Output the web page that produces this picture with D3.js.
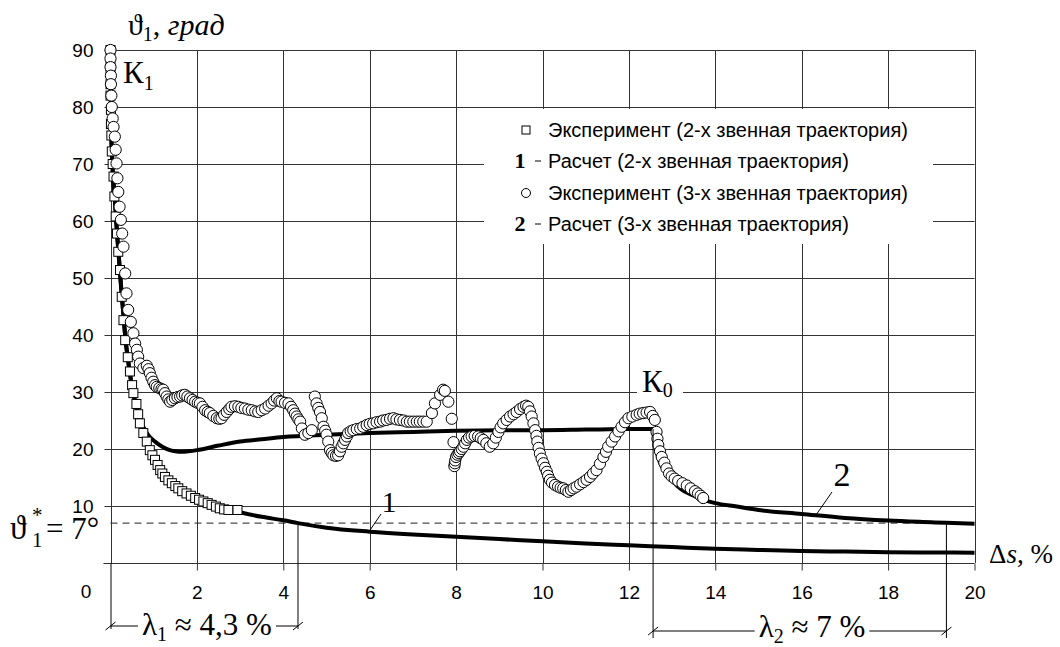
<!DOCTYPE html>
<html><head><meta charset="utf-8">
<script src="https://cdn.jsdelivr.net/npm/d3@7"></script>
<style>body{margin:0;background:#fff}svg{display:block}</style>
</head><body><svg id="c" width="1060" height="647"></svg>
<script>
const xTicks=[2,4,6,8,10,12,14,16,18,20];
const yTicks=[10,20,30,40,50,60,70,80,90];
// Calculation 1 (2-link trajectory)
const calc1=[[0,90],[0.01,80],[0.02,75],[0.05,69],[0.1,64],[0.15,58],[0.2,53],[0.25,48],[0.3,43.5],[0.35,39],[0.4,36],[0.45,33.2],[0.5,30.8],[0.6,27.6],[0.7,24.4],[0.8,22.0],[0.9,20.0],[1.0,18.4],[1.2,16.0],[1.4,14.3],[1.6,13.0],[1.8,12.0],[2.0,11.3],[2.2,10.7],[2.5,9.9],[2.8,9.3],[3.0,8.9],[3.5,8.1],[4.0,7.5],[4.34,7.0],[5.0,6.2],[6.0,5.5],[7.0,5.0],[8.0,4.6],[9.0,4.2],[10.0,3.8],[11.0,3.4],[12.0,3.1],[13.0,2.8],[14.0,2.5],[15.0,2.3],[16.0,2.1],[17.0,2.0],[18.0,1.9],[19.0,1.85],[20.0,1.8]];
// Calculation 2 (3-link trajectory)
const calc2=[[0,90],[0.01,80],[0.02,75],[0.05,69],[0.1,64],[0.15,58],[0.2,53],[0.25,48],[0.3,43.5],[0.35,39],[0.4,36],[0.45,33.2],[0.5,30.8],[0.6,27.3],[0.7,24.8],[0.8,23.3],[0.9,22.2],[1.03,21.3],[1.2,20.4],[1.34,19.9],[1.5,19.6],[1.65,19.5],[1.8,19.6],[2.0,19.8],[2.5,20.6],[3.0,21.3],[3.5,21.7],[4.0,22.1],[5.0,22.5],[6.0,22.8],[7.0,23.0],[8.0,23.2],[9.0,23.3],[10.0,23.3],[11.0,23.4],[12.0,23.5],[12.55,23.5],[12.6,21.0],[12.7,18.0],[12.85,16.0],[13.0,14.5],[13.2,13.0],[13.5,11.8],[13.8,10.9],[14.0,10.5],[14.5,9.9],[15.0,9.3],[16.0,8.6],[17.0,7.9],[18.0,7.45],[19.0,7.15],[19.35,7.05],[20.0,6.9]];
// Experiment (2-link)
const exp2=[[0,90],[0,88],[0,86],[0,84],[0,82],[0.01,79.5],[0.01,77],[0.02,75],[0.03,72.2],[0.05,70],[0.07,67.8],[0.09,64.3],[0.12,60.8],[0.15,57.8],[0.18,54.6],[0.22,51.4],[0.26,46.7],[0.3,42.6],[0.34,39.1],[0.4,36.1],[0.45,33.6],[0.5,31.2],[0.53,29.8],[0.6,27.9],[0.64,26.1],[0.68,24.5],[0.76,22.8],[0.84,21.3],[0.91,19.8],[0.97,18.9],[1.03,18.1],[1.09,17.2],[1.15,16.3],[1.2,15.7],[1.26,15.1],[1.34,14.5],[1.42,14.0],[1.5,13.5],[1.57,13.1],[1.66,12.6],[1.76,12.2],[1.86,11.8],[1.96,11.4],[2.05,11.1],[2.15,10.8],[2.25,10.5],[2.34,10.2],[2.44,9.9],[2.53,9.6],[2.63,9.4],[2.73,9.3],[2.94,9.3]];
// Experiment (3-link)
const exp3=[[0,90],[0,88.5],[0,87],[0.01,85.5],[0.01,84],[0.02,82],[0.03,80],[0.05,78],[0.07,76.5],[0.1,74.8],[0.12,72.5],[0.14,70.1],[0.16,67.5],[0.18,65.1],[0.21,62.5],[0.24,60.2],[0.27,57.8],[0.3,55.5],[0.34,50.8],[0.37,47.3],[0.41,44.4],[0.47,42.3],[0.53,40.3],[0.57,38.5],[0.61,37.4],[0.64,36.2],[0.68,35],[0.76,34.2],[0.84,34.6],[0.88,34.0],[0.91,33.3],[0.95,32.5],[0.99,31.8],[1.03,31.2],[1.07,30.9],[1.13,30.7],[1.18,30.5],[1.22,30.4],[1.26,29.8],[1.3,29.2],[1.34,28.7],[1.38,28.3],[1.43,28.6],[1.49,28.9],[1.55,29.1],[1.61,29.2],[1.66,29.4],[1.72,29.5],[1.78,29.2],[1.84,28.9],[1.9,28.6],[1.96,28.3],[2.02,28.1],[2.07,28.0],[2.13,27.4],[2.19,26.8],[2.25,26.5],[2.3,26.3],[2.38,25.8],[2.46,25.4],[2.52,25.3],[2.57,25.4],[2.63,26.0],[2.69,26.5],[2.75,27.0],[2.8,27.4],[2.88,27.5],[2.96,27.4],[3.03,27.2],[3.11,27.1],[3.19,26.9],[3.27,26.8],[3.35,26.6],[3.42,26.5],[3.5,26.8],[3.58,27.1],[3.66,27.6],[3.73,28.0],[3.79,28.5],[3.85,28.9],[3.91,28.4],[3.96,28.3],[4.04,28.1],[4.12,28.0],[4.18,27.4],[4.23,26.8],[4.27,26.2],[4.31,25.7],[4.35,25.2],[4.39,24.8],[4.43,23.6],[4.5,22.5],[4.58,22.8],[4.66,23.3],[4.73,29.2],[4.77,28.0],[4.81,27.2],[4.85,26.5],[4.89,25.4],[4.93,23.9],[4.97,23.2],[5.0,22.5],[5.04,21.3],[5.08,19.8],[5.12,19.3],[5.16,18.9],[5.22,18.8],[5.27,18.9],[5.31,19.6],[5.35,20.4],[5.39,21.0],[5.43,21.6],[5.47,22.2],[5.5,22.8],[5.56,23.1],[5.62,23.3],[5.7,23.5],[5.78,23.6],[5.85,23.9],[5.93,24.2],[6.0,24.4],[6.08,24.5],[6.16,24.7],[6.24,24.8],[6.31,25.0],[6.39,25.1],[6.47,25.3],[6.55,25.4],[6.62,25.2],[6.7,25.1],[6.78,25.0],[6.86,24.8],[6.93,24.8],[7.01,24.8],[7.09,24.8],[7.16,24.8],[7.24,24.8],[7.32,24.8],[7.44,26.3],[7.51,28.0],[7.63,29.5],[7.7,30.4],[7.74,30.2],[7.82,28.3],[7.9,25.3],[7.94,21.2],[7.96,17.0],[7.97,17.5],[7.98,18.0],[8.0,18.6],[8.03,19.0],[8.06,19.3],[8.09,19.6],[8.13,20.0],[8.17,20.4],[8.21,21.0],[8.25,21.6],[8.3,22.0],[8.36,22.2],[8.43,22.3],[8.51,22.2],[8.57,21.9],[8.63,21.6],[8.7,21.0],[8.78,20.4],[8.86,21.0],[8.92,22.0],[8.98,23.0],[9.03,23.8],[9.09,24.5],[9.17,25.1],[9.25,25.7],[9.33,26.1],[9.4,26.5],[9.48,27.0],[9.56,27.4],[9.62,27.6],[9.67,27.4],[9.71,26.6],[9.75,25.7],[9.79,24.5],[9.83,23.3],[9.86,22.3],[9.88,21.3],[9.91,20.2],[9.94,19.2],[9.98,18.3],[10.02,17.5],[10.06,16.7],[10.1,16.0],[10.13,15.3],[10.17,14.6],[10.22,14.1],[10.29,13.7],[10.36,13.4],[10.42,13.2],[10.48,13.1],[10.54,12.8],[10.6,12.5],[10.66,12.8],[10.72,13.1],[10.79,13.4],[10.87,13.8],[10.95,14.2],[11.02,14.6],[11.1,15.1],[11.17,15.7],[11.25,16.3],[11.33,17.4],[11.41,18.6],[11.47,19.5],[11.52,20.4],[11.6,21.3],[11.68,22.2],[11.76,23.1],[11.83,23.9],[11.91,24.7],[11.99,25.4],[12.08,25.7],[12.18,26.0],[12.25,26.2],[12.33,26.3],[12.41,26.4],[12.49,26.5],[12.55,25.8],[12.6,25.1],[12.64,23.0],[12.66,21.8],[12.68,20.7],[12.72,19.6],[12.76,18.6],[12.82,17.6],[12.87,16.6],[12.93,15.7],[12.99,15.2],[13.06,14.8],[13.14,14.4],[13.24,14.0],[13.34,13.6],[13.43,13.1],[13.53,12.6],[13.6,12.2],[13.66,11.8],[13.72,11.4]];
const legendLabels=["Эксперимент (2-х звенная траектория)","Расчет (2-х звенная траектория)","Эксперимент (3-х звенная траектория)","Расчет (3-х звенная траектория)"];
const legendKeys=["square","1","circle","2"];
const thetaStar=7;
const lambda1End=4.34, lambda2Start=12.56, lambda2End=19.35;

const svg=d3.select("#c");
const x=d3.scaleLinear().domain([0,20]).range([110.5,974.5]);
const y=d3.scaleLinear().domain([0,90]).range([563,50]);
const sans="'Liberation Sans', Arial, sans-serif";
const serif="'Liberation Serif', 'Times New Roman', serif";
const gridC="#333";

// grid
const g=svg.append("g");
g.selectAll(".vg").data(xTicks).join("line")
 .attr("x1",d=>Math.round(x(d))+0.5).attr("x2",d=>Math.round(x(d))+0.5)
 .attr("y1",y(90)).attr("y2",y(0)).attr("stroke",gridC).attr("stroke-width",1);
g.selectAll(".hg").data(yTicks).join("line")
 .attr("x1",x(0)).attr("x2",x(20))
 .attr("y1",d=>Math.round(y(d))+0.5).attr("y2",d=>Math.round(y(d))+0.5).attr("stroke",gridC).attr("stroke-width",1);

// axes
const xa=svg.append("g").attr("transform",`translate(0,${Math.round(y(0))+0.5})`)
 .call(d3.axisBottom(x).tickValues(xTicks).tickSize(7).tickPadding(15).tickFormat(d3.format("d")));
const ya=svg.append("g").attr("transform",`translate(${Math.round(x(0))+0.5},0)`)
 .call(d3.axisLeft(y).tickValues(yTicks).tickSize(7).tickPadding(11).tickFormat(d3.format("d")));
[xa,ya].forEach(a=>{a.selectAll("line").attr("stroke",gridC);a.select(".domain").attr("stroke",gridC);
 a.selectAll("text").attr("font-family",sans).attr("font-size",19).attr("fill","#000");});
xa.select(".domain").attr("d",`M${x(0)-7},0H${x(20)}`);
ya.select(".domain").attr("d",`M0,${y(90)}V${y(0)}`);
svg.append("text").attr("x",86).attr("y",598).attr("text-anchor","middle")
 .attr("font-family",sans).attr("font-size",19).text("0");

// dashed theta* line
svg.append("line").attr("x1",x(0)).attr("x2",x(20)).attr("y1",y(thetaStar)).attr("y2",y(thetaStar))
 .attr("stroke","#222").attr("stroke-width",1).attr("stroke-dasharray","7,5");

// curves
const line=d3.line().x(d=>x(d[0])).y(d=>y(d[1])).curve(d3.curveMonotoneX);
svg.append("path").attr("d",line(calc1)).attr("fill","none").attr("stroke","#000").attr("stroke-width",4);
svg.append("path").attr("d",line(calc2)).attr("fill","none").attr("stroke","#000").attr("stroke-width",4);

// experiment markers
svg.append("g").selectAll("rect").data(exp2).join("rect")
 .attr("x",d=>x(d[0])-4.5).attr("y",d=>y(d[1])-4.5).attr("width",9).attr("height",9)
 .attr("fill","#fff").attr("stroke","#000").attr("stroke-width",1);
svg.append("g").selectAll("circle").data(exp3).join("circle")
 .attr("cx",d=>x(d[0])).attr("cy",d=>y(d[1])).attr("r",5.6)
 .attr("fill","#fff").attr("stroke","#000").attr("stroke-width",1);

// legend
svg.append("rect").attr("x",484).attr("y",109).attr("width",449).attr("height",135).attr("fill","#fff");
const rowsY=[130,161,193,224];
legendLabels.forEach((t,i)=>{
  const cy=rowsY[i];
  const k=legendKeys[i];
  if(k==="square") svg.append("rect").attr("x",522).attr("y",cy-4).attr("width",8).attr("height",8).attr("fill","#fff").attr("stroke","#000");
  else if(k==="circle") svg.append("circle").attr("cx",526).attr("cy",cy).attr("r",4.5).attr("fill","#fff").attr("stroke","#000");
  else {
    svg.append("text").attr("x",520).attr("y",cy+7).attr("text-anchor","middle").attr("font-family",serif).attr("font-weight","bold").attr("font-size",22).text(k);
    svg.append("line").attr("x1",535).attr("x2",541).attr("y1",cy).attr("y2",cy).attr("stroke","#000");
  }
  svg.append("text").attr("x",548).attr("y",cy+7).attr("font-family",sans).attr("font-size",20).text(t);
});

// axis title
const tt=svg.append("text").attr("x",128).attr("y",35).attr("font-family",serif).attr("font-size",30);
tt.append("tspan").text("ϑ");
tt.append("tspan").attr("font-size",20).attr("dy",6).text("1");
tt.append("tspan").attr("dy",-6).text(", ");
tt.append("tspan").attr("font-style","italic").text("град");

// K1
const k1=svg.append("text").attr("x",123).attr("y",83).attr("font-family",serif).attr("font-size",31);
k1.append("tspan").text("К");k1.append("tspan").attr("font-size",20).attr("dy",7).text("1");
// K0 with white background
svg.append("rect").attr("x",637).attr("y",380).attr("width",46).attr("height",22).attr("fill","#fff");
const k0=svg.append("text").attr("x",642).attr("y",392).attr("font-family",serif).attr("font-size",31);
k0.append("tspan").text("К");k0.append("tspan").attr("font-size",20).attr("dy",5).text("0");

// theta* label
function T(px,py,s,txt,style){const t=svg.append("text").attr("x",px).attr("y",py).attr("font-family",serif).attr("font-size",s).text(txt);if(style)t.attr("font-style",style);return t;}
T(10,539,33,"ϑ");
T(32,547,21,"1");
T(32,522,21,"*");
T(46,539,31,"= 7°");

// Δs label
const ds=svg.append("text").attr("x",989).attr("y",563).attr("font-family",serif).attr("font-size",27);
ds.append("tspan").text("Δ");ds.append("tspan").attr("font-style","italic").text("s");ds.append("tspan").text(", %");

// curve labels with leaders
svg.append("text").attr("x",389).attr("y",512).attr("text-anchor","middle").attr("font-family",serif).attr("font-size",30).text("1");
svg.append("line").attr("x1",381).attr("y1",514).attr("x2",369).attr("y2",y(5.5)).attr("stroke","#000");
svg.append("text").attr("x",842).attr("y",486).attr("text-anchor","middle").attr("font-family",serif).attr("font-size",34).text("2");
svg.append("line").attr("x1",832).attr("y1",492).attr("x2",816).attr("y2",515).attr("stroke","#000");

// lambda dimension lines
function slash(px,py){svg.append("line").attr("x1",px-5).attr("y1",py+4).attr("x2",px+5).attr("y2",py-4).attr("stroke","#000");}
svg.append("line").attr("x1",x(0)+0.5).attr("x2",x(0)+0.5).attr("y1",y(0)).attr("y2",629).attr("stroke","#000");
svg.append("line").attr("x1",x(lambda1End)).attr("x2",x(lambda1End)).attr("y1",y(thetaStar)).attr("y2",629).attr("stroke","#000");
svg.append("line").attr("x1",x(0)).attr("x2",x(lambda1End)).attr("y1",626).attr("y2",626).attr("stroke","#000");
slash(x(0),626);slash(x(lambda1End),626);
svg.append("line").attr("x1",x(lambda2Start)).attr("x2",x(lambda2Start)).attr("y1",y(23.5)).attr("y2",638).attr("stroke","#000");
svg.append("line").attr("x1",x(lambda2End)).attr("x2",x(lambda2End)).attr("y1",y(thetaStar)).attr("y2",638).attr("stroke","#000");
svg.append("line").attr("x1",x(lambda2Start)).attr("x2",x(lambda2End)).attr("y1",631).attr("y2",631).attr("stroke","#000");
slash(x(lambda2Start),631);slash(x(lambda2End),631);

function lamLabel(cx,by,sub,rest){
  const t=svg.append("text").attr("x",cx).attr("y",by).attr("text-anchor","middle").attr("font-family",serif).attr("font-size",31);
  t.append("tspan").text("λ");t.append("tspan").attr("font-size",20).attr("dy",6).text(sub);t.append("tspan").attr("dy",-6).text(rest);
  const b=t.node().getBBox();
  svg.insert("rect",()=>t.node()).attr("x",b.x-4).attr("y",b.y).attr("width",b.width+8).attr("height",b.height-8).attr("fill","#fff");
}
lamLabel(207,635,"1"," ≈ 4,3 %");
lamLabel(812,637,"2"," ≈ 7 %");
</script></body></html>
